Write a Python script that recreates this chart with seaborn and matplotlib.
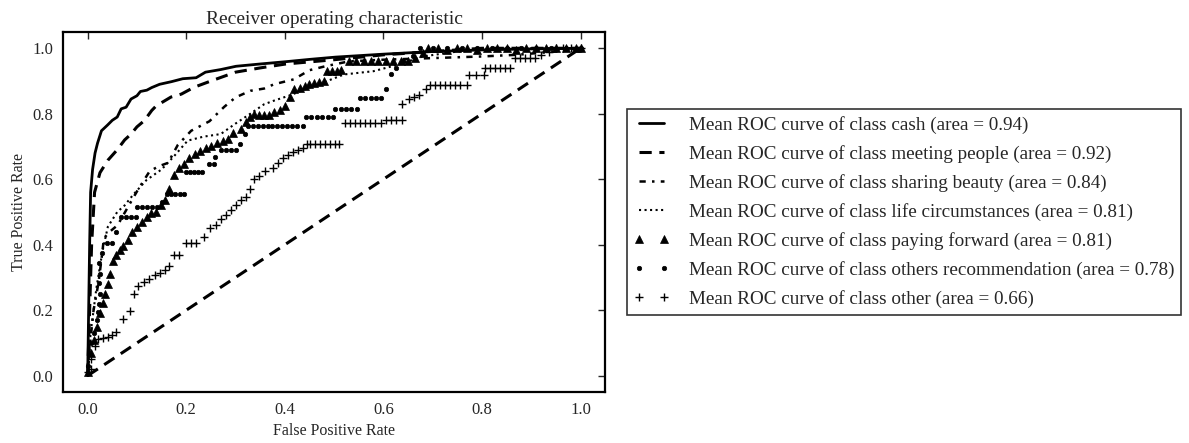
import numpy as np
import matplotlib
matplotlib.use("Agg")
import matplotlib.pyplot as plt
import seaborn as sns

# ROC curves
cash_fpr = [0, 0.002, 0.004, 0.006, 0.01, 0.015, 0.02, 0.028, 0.04, 0.05, 0.06, 0.068, 0.078, 0.088, 0.1, 0.107,
            0.12, 0.13, 0.146, 0.17, 0.193, 0.22, 0.239, 0.27, 0.301, 0.35, 0.402, 0.45, 0.503, 0.6, 0.7, 0.8, 0.9, 1.0]
cash_tpr = [0, 0.2, 0.4, 0.56, 0.63, 0.68, 0.71, 0.748, 0.765, 0.78, 0.79, 0.815, 0.82, 0.845, 0.855, 0.868,
            0.872, 0.88, 0.89, 0.898, 0.907, 0.91, 0.927, 0.935, 0.945, 0.952, 0.959, 0.966, 0.973, 0.982, 0.99, 0.995, 0.998, 1.0]

meet_fpr = [0, 0.004, 0.008, 0.014, 0.025, 0.041, 0.06, 0.075, 0.088, 0.1, 0.115, 0.13, 0.139, 0.169, 0.19, 0.216,
            0.25, 0.3, 0.35, 0.402, 0.5, 0.6, 0.7, 0.8, 1.0]
meet_tpr = [0, 0.2, 0.4, 0.56, 0.62, 0.658, 0.69, 0.72, 0.738, 0.76, 0.779, 0.81, 0.824, 0.851, 0.86, 0.881,
            0.9, 0.927, 0.94, 0.952, 0.965, 0.98, 0.99, 1.0, 1.0]

beauty_fpr = [0, 0.005, 0.012, 0.022, 0.028, 0.033, 0.045, 0.061, 0.082, 0.102, 0.126, 0.145, 0.163, 0.183, 0.21,
              0.247, 0.277, 0.3, 0.33, 0.358, 0.378, 0.418, 0.45, 0.482, 0.53, 0.6, 0.7, 0.8, 0.87, 0.95, 1.0]
beauty_tpr = [0, 0.1, 0.2, 0.284, 0.355, 0.42, 0.44, 0.46, 0.516, 0.568, 0.625, 0.64, 0.65, 0.705, 0.748,
              0.777, 0.821, 0.85, 0.87, 0.877, 0.89, 0.905, 0.933, 0.945, 0.96, 0.965, 0.97, 0.975, 0.98, 0.99, 1.0]

life_fpr = [0, 0.006, 0.018, 0.03, 0.041, 0.06, 0.075, 0.092, 0.119, 0.15, 0.175, 0.203, 0.235, 0.27, 0.3, 0.33,
            0.358, 0.378, 0.41, 0.45, 0.486, 0.52, 0.58, 0.63, 0.68, 0.75, 0.85, 1.0]
life_tpr = [0, 0.13, 0.27, 0.38, 0.455, 0.5, 0.52, 0.552, 0.597, 0.63, 0.67, 0.718, 0.73, 0.738, 0.77, 0.8,
            0.829, 0.84, 0.856, 0.88, 0.9, 0.92, 0.93, 0.95, 0.975, 0.99, 1.0, 1.0]

pay_fpr = [0.0, 0.007, 0.012, 0.018, 0.025, 0.031, 0.036, 0.041, 0.046, 0.051, 0.058, 0.065, 0.072, 0.082, 0.09,
           0.1, 0.11, 0.12, 0.129, 0.138, 0.148, 0.156, 0.166, 0.176, 0.186, 0.196, 0.206, 0.217, 0.228, 0.24,
           0.25, 0.262, 0.274, 0.284, 0.295, 0.311, 0.322, 0.33, 0.338, 0.348, 0.358, 0.368, 0.379, 0.39, 0.4,
           0.41, 0.418, 0.43, 0.44, 0.45, 0.46, 0.47, 0.479, 0.486, 0.496, 0.506, 0.513, 0.53, 0.545, 0.56,
           0.575, 0.59, 0.605, 0.62, 0.635, 0.65, 0.665, 0.68, 0.69, 0.71, 0.73, 0.75, 0.77, 0.79, 0.81, 0.83,
           0.85, 0.87, 0.89, 0.91, 0.93, 0.95, 0.97, 0.99, 1.0]
pay_tpr = [0.01, 0.07, 0.11, 0.148, 0.19, 0.223, 0.25, 0.279, 0.31, 0.349, 0.37, 0.385, 0.395, 0.415, 0.44,
           0.455, 0.47, 0.485, 0.496, 0.5, 0.52, 0.536, 0.57, 0.612, 0.635, 0.648, 0.665, 0.678, 0.685, 0.695,
           0.703, 0.712, 0.718, 0.723, 0.74, 0.753, 0.775, 0.79, 0.799, 0.797, 0.797, 0.797, 0.805, 0.81, 0.825,
           0.85, 0.875, 0.88, 0.885, 0.89, 0.895, 0.898, 0.9, 0.93, 0.93, 0.932, 0.935, 0.96, 0.96, 0.96,
           0.96, 0.96, 0.96, 0.96, 0.96, 0.96, 0.97, 0.985, 1.0, 1.0, 0.995, 1.0, 1.0, 0.995, 1.0, 1.0,
           1.0, 0.995, 1.0, 1.0, 1.0, 1.0, 1.0, 1.0, 1.0]

rec_fpr = [0.0, 0.007, 0.012, 0.018, 0.021, 0.024, 0.026, 0.024, 0.026, 0.024, 0.03, 0.04, 0.05, 0.058, 0.068,
           0.078, 0.088, 0.098, 0.1, 0.11, 0.12, 0.13, 0.14, 0.15, 0.16, 0.169, 0.178, 0.187, 0.196, 0.2, 0.208,
           0.216, 0.224, 0.232, 0.247, 0.256, 0.258, 0.27, 0.28, 0.29, 0.3, 0.31, 0.32, 0.325, 0.335, 0.345,
           0.355, 0.365, 0.375, 0.385, 0.395, 0.405, 0.415, 0.425, 0.436, 0.443, 0.454, 0.465, 0.476, 0.487,
           0.497, 0.502, 0.513, 0.524, 0.535, 0.547, 0.552, 0.563, 0.574, 0.585, 0.596, 0.605, 0.615, 0.625,
           0.64, 0.66, 0.675, 0.7, 0.73, 0.76, 0.79, 0.82, 0.85, 0.88, 0.91, 0.94, 0.97, 1.0]
rec_tpr = [0.03, 0.1, 0.13, 0.17, 0.193, 0.22, 0.25, 0.284, 0.31, 0.345, 0.375, 0.405, 0.405, 0.44, 0.486,
           0.486, 0.486, 0.486, 0.516, 0.516, 0.516, 0.516, 0.516, 0.53, 0.556, 0.556, 0.556, 0.556, 0.556, 0.622,
           0.622, 0.622, 0.622, 0.622, 0.648, 0.648, 0.668, 0.688, 0.688, 0.688, 0.688, 0.708, 0.738, 0.764,
           0.764, 0.764, 0.764, 0.764, 0.764, 0.764, 0.764, 0.764, 0.764, 0.764, 0.764, 0.789, 0.789, 0.789,
           0.789, 0.789, 0.789, 0.816, 0.816, 0.816, 0.816, 0.816, 0.847, 0.847, 0.847, 0.847, 0.847, 0.877,
           0.92, 0.94, 0.96, 0.975, 1.0, 1.0, 1.0, 1.0, 1.0, 1.0, 1.0, 1.0, 1.0, 1.0, 1.0, 1.0]

other_fpr = [0.0, 0.007, 0.007, 0.014, 0.021, 0.031, 0.041, 0.05, 0.058, 0.072, 0.085, 0.095, 0.102, 0.115, 0.125,
             0.136, 0.146, 0.156, 0.165, 0.176, 0.185, 0.2, 0.21, 0.22, 0.237, 0.249, 0.26, 0.27, 0.28, 0.291,
             0.301, 0.311, 0.322, 0.33, 0.338, 0.348, 0.359, 0.376, 0.386, 0.396, 0.406, 0.416, 0.426, 0.436,
             0.444, 0.452, 0.462, 0.472, 0.482, 0.492, 0.502, 0.51, 0.522, 0.532, 0.542, 0.552, 0.562, 0.572,
             0.582, 0.596, 0.605, 0.615, 0.625, 0.637, 0.638, 0.652, 0.662, 0.672, 0.686, 0.695, 0.705, 0.715,
             0.725, 0.735, 0.745, 0.755, 0.769, 0.773, 0.788, 0.804, 0.807, 0.817, 0.827, 0.837, 0.847, 0.857,
             0.868, 0.878, 0.888, 0.898, 0.908, 0.92, 0.935, 0.95, 0.965, 0.98, 1.0]
other_tpr = [0.01, 0.02, 0.05, 0.09, 0.112, 0.115, 0.117, 0.125, 0.134, 0.173, 0.198, 0.248, 0.273, 0.286, 0.295,
             0.306, 0.315, 0.324, 0.334, 0.37, 0.37, 0.405, 0.405, 0.405, 0.425, 0.45, 0.46, 0.48, 0.49, 0.506,
             0.52, 0.536, 0.545, 0.57, 0.602, 0.61, 0.624, 0.634, 0.65, 0.666, 0.675, 0.684, 0.69, 0.694,
             0.708, 0.708, 0.708, 0.708, 0.708, 0.708, 0.708, 0.708, 0.771, 0.771, 0.771, 0.771, 0.771, 0.771,
             0.771, 0.771, 0.78, 0.78, 0.78, 0.78, 0.83, 0.845, 0.85, 0.856, 0.876, 0.887, 0.887, 0.887,
             0.887, 0.887, 0.887, 0.887, 0.887, 0.917, 0.917, 0.917, 0.94, 0.94, 0.94, 0.94, 0.94, 0.94,
             0.971, 0.971, 0.971, 0.971, 0.971, 0.98, 0.99, 1.0, 1.0, 1.0, 1.0]

labels = ["Mean ROC curve of class cash (area = 0.94)",
          "Mean ROC curve of class meeting people (area = 0.92)",
          "Mean ROC curve of class sharing beauty (area = 0.84)",
          "Mean ROC curve of class life circumstances (area = 0.81)",
          "Mean ROC curve of class paying forward (area = 0.81)",
          "Mean ROC curve of class others recommendation (area = 0.78)",
          "Mean ROC curve of class other (area = 0.66)"]

sns.set_style("white")
plt.rcParams['font.family'] = ['Liberation Serif', 'DejaVu Serif']
plt.rcParams['xtick.direction'] = 'in'
plt.rcParams['ytick.direction'] = 'in'

fig = plt.figure(figsize=(11.89, 4.43), dpi=100)
ax = fig.add_axes([0.053, 0.115, 0.456, 0.813])

dash = (0, (4, 2.5))
sns.lineplot(x=cash_fpr, y=cash_tpr, ax=ax, color='k', lw=2, sort=False, estimator=None, label=labels[0])
sns.lineplot(x=meet_fpr, y=meet_tpr, ax=ax, color='k', lw=2.2, sort=False, estimator=None, label=labels[1],
             linestyle=dash)
sns.lineplot(x=beauty_fpr, y=beauty_tpr, ax=ax, color='k', lw=1.8, sort=False, estimator=None, label=labels[2],
             linestyle=(0, (2.5, 2.5, 1, 2.5)))
sns.lineplot(x=life_fpr, y=life_tpr, ax=ax, color='k', lw=1.5, sort=False, estimator=None, label=labels[3],
             linestyle=':')
sns.lineplot(x=pay_fpr, y=pay_tpr, ax=ax, color='k', sort=False, estimator=None, label=labels[4],
             linestyle='', marker='^', markersize=6, markeredgewidth=0.5, markeredgecolor='k')
sns.lineplot(x=rec_fpr, y=rec_tpr, ax=ax, color='k', sort=False, estimator=None, label=labels[5],
             linestyle='', marker='o', markersize=3.2, markeredgewidth=0.5, markeredgecolor='k')
sns.lineplot(x=other_fpr, y=other_tpr, ax=ax, color='k', sort=False, estimator=None, label=labels[6],
             linestyle='', marker='+', markersize=5.5, markeredgewidth=1.0, markeredgecolor='k')

# chance diagonal
ax.plot([0, 1], [0, 1], color='k', lw=2.2, linestyle=dash)

ax.set_xlim(-0.05, 1.05)
ax.set_ylim(-0.05, 1.05)
ax.set_xticks(np.arange(0, 1.01, 0.2))
ax.set_yticks(np.arange(0, 1.01, 0.2))
ax.tick_params(top=True, right=True, length=5, width=1, labelsize=12, pad=7)
for s in ax.spines.values():
    s.set_linewidth(1.6)
    s.set_color('k')
ax.set_xlabel("False Positive Rate", fontsize=11.5)
ax.set_ylabel("True Positive Rate", fontsize=11.5)
ax.set_title("Receiver operating characteristic", fontsize=14)

leg = ax.legend(loc='center left', bbox_to_anchor=(0.527, 0.5214), bbox_transform=fig.transFigure,
                fontsize=13.8, numpoints=2, frameon=True, fancybox=False, handlelength=1.9,
                handletextpad=1.0, edgecolor='k', borderpad=0.35, labelspacing=0.58, borderaxespad=0)
leg.get_frame().set_linewidth(1.2)

fig.savefig("out.png", dpi=100)
